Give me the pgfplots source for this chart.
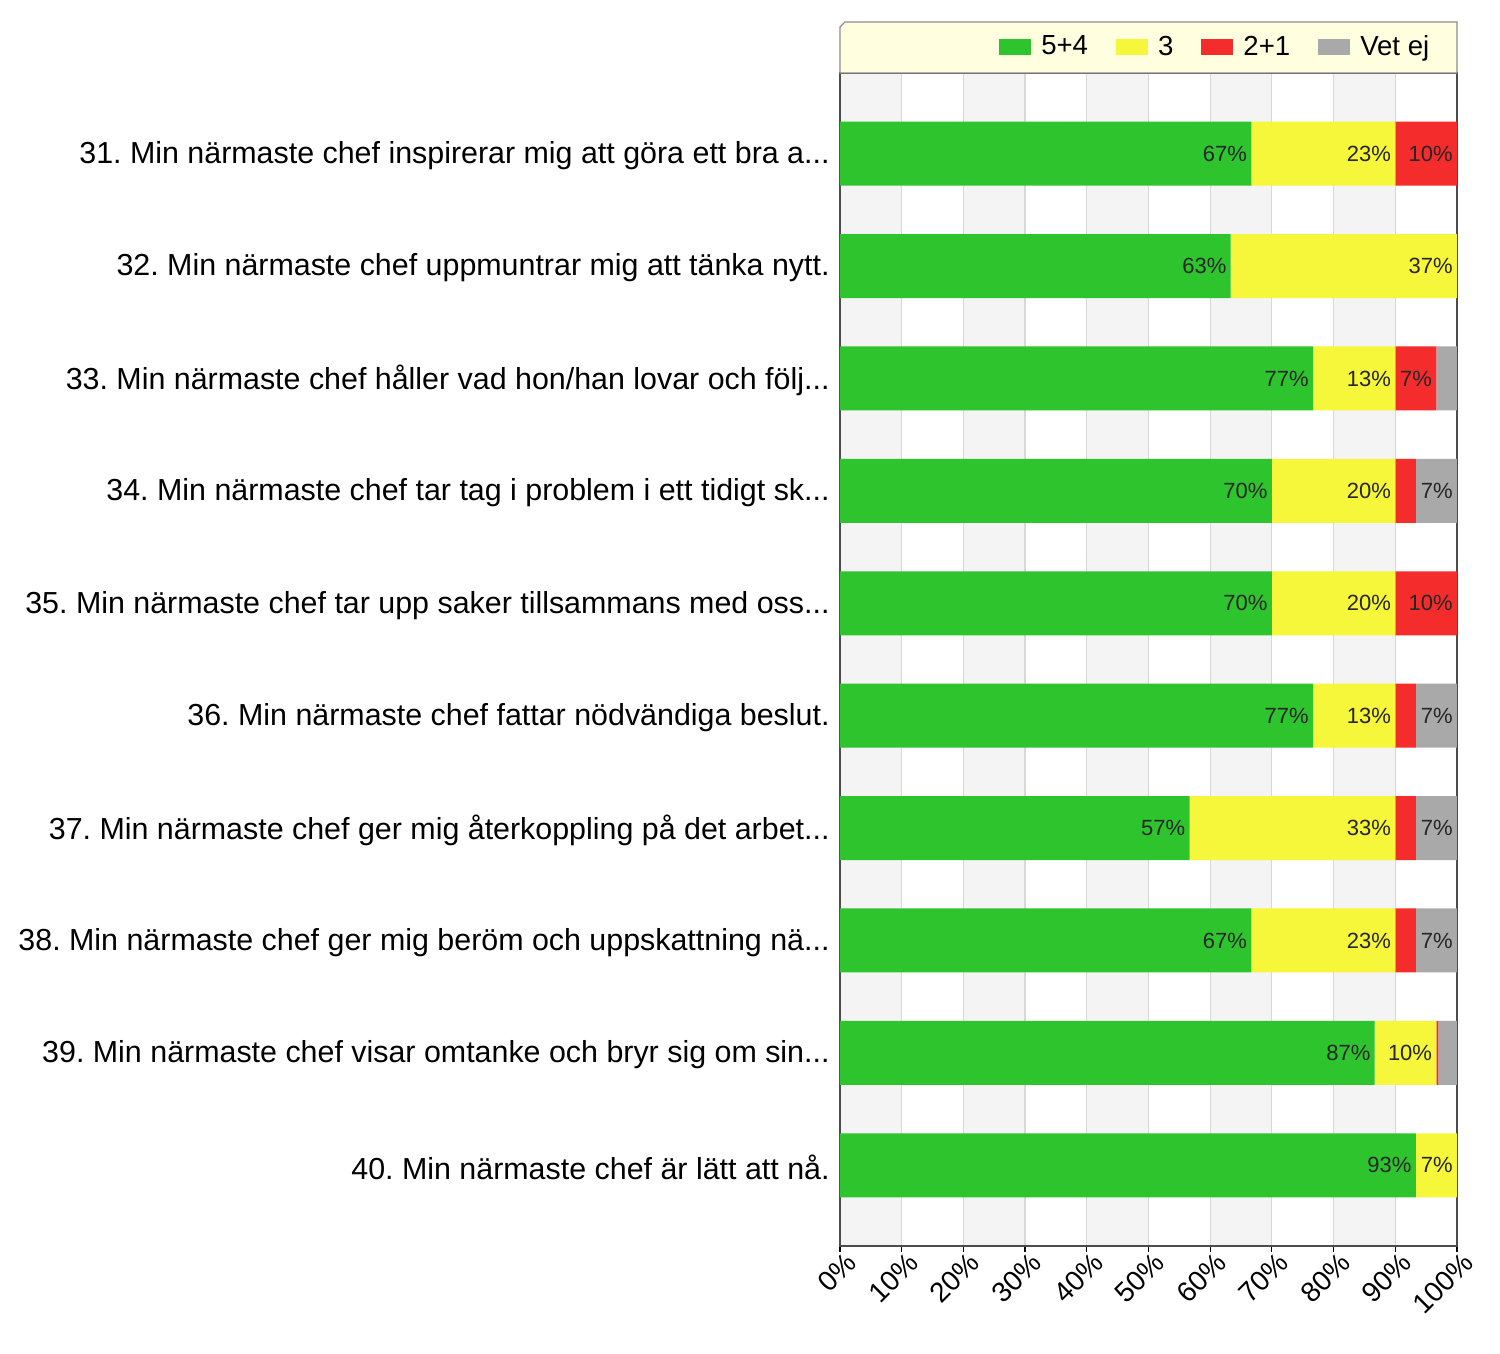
\documentclass[border=0pt]{standalone}
\usepackage{pgfplots}
\pgfplotsset{compat=1.18}
\usepackage{pgfplotstable}
\usepackage{fontspec}
\setmainfont{Liberation Sans}
\frenchspacing
\definecolor{cG}{HTML}{2EC42E}
\definecolor{cY}{HTML}{F6F63A}
\definecolor{cR}{HTML}{F42C2C}
\definecolor{cV}{HTML}{A9A9A9}
\definecolor{stripe}{HTML}{F4F4F4}
\definecolor{gridc}{HTML}{D8D8D8}
\definecolor{legbg}{HTML}{FFFFE0}
\newcommand*{\tdots}{.\kern0pt.\kern0pt.}

\pgfplotstableread{
cat g y r v gl yl rl vl
9 66.67 23.33 10 0 67\% 23\% 10\% {}
8 63.33 36.67 0 0 63\% 37\% {} {}
7 76.67 13.33 6.67 3.33 77\% 13\% 7\% {}
6 70 20 3.33 6.67 70\% 20\% {} 7\%
5 70 20 10 0 70\% 20\% 10\% {}
4 76.67 13.33 3.33 6.67 77\% 13\% {} 7\%
3 56.67 33.33 3.33 6.67 57\% 33\% {} 7\%
2 66.67 23.33 3.33 6.67 67\% 23\% {} 7\%
1 86.67 10 0.3 3.03 87\% 10\% {} {}
0 93.33 6.67 0 0 93\% 7\% {} {}
}\data

\begin{document}
\begin{tikzpicture}
\path[use as bounding box] (-420pt,-54pt) rectangle (330pt,623pt);
\begin{axis}[
  at={(0,0)}, anchor=south west,
  scale only axis, width=308.5pt, height=586.5pt,
  clip=false,
  axis background/.style={fill=white, path picture={
    \foreach \i in {0,2,4,6,8} {\fill[stripe] ([xshift=\i*30.85pt]path picture bounding box.south west) rectangle ([xshift=\i*30.85pt+30.85pt]path picture bounding box.north west);}}},
  xbar stacked, bar width=32pt,
  xmin=0, xmax=100, ymin=-0.718, ymax=9.718,
  xtick={0,10,20,30,40,50,60,70,80,90,100},
  xticklabels={0\%,10\%,20\%,30\%,40\%,50\%,60\%,70\%,80\%,90\%,100\%},
  x tick label style={rotate=45, anchor=north east, font=\fontsize{14}{16}\selectfont, inner sep=1pt, xshift=3pt},
  ytick={0,1,2,3,4,5,6,7,8,9},
  yticklabels={
    {40. Min närmaste chef är lätt att nå.},
    {39. Min närmaste chef visar omtanke och bryr sig om sin\tdots},
    {38. Min närmaste chef ger mig beröm och uppskattning nä\tdots},
    {37. Min närmaste chef ger mig återkoppling på det arbet\tdots},
    {36. Min närmaste chef fattar nödvändiga beslut.},
    {35. Min närmaste chef tar upp saker tillsammans med oss\tdots},
    {34. Min närmaste chef tar tag i problem i ett tidigt sk\tdots},
    {33. Min närmaste chef håller vad hon/han lovar och följ\tdots},
    {32. Min närmaste chef uppmuntrar mig att tänka nytt.},
    {31. Min närmaste chef inspirerar mig att göra ett bra a\tdots}},
  y tick label style={font=\fontsize{15.2}{18}\selectfont, inner sep=2pt, yshift=-1pt},
  ytick style={draw=none},
  tick align=outside, xtick pos=left, major tick length=3pt,
  xtick style={black, line width=0.6pt},
  xmajorgrids, grid style={draw=gridc, line width=0.6pt},
  axis line style={black!70, line width=0.6pt},
  nodes near coords, point meta=explicit symbolic,
  visualization depends on={rawx \as \rawx},
  every node near coord/.append style={anchor=east, xshift=\rawx*1.5425pt, font=\fontsize{11}{13}\selectfont, text=black!85, inner sep=2pt},
  legend columns=4,
  legend style={at={(0.972,1.0222)}, anchor=east, draw=none, fill=none,
    font=\fontsize{13.8}{16}\selectfont,
    /tikz/every odd column/.append style={column sep=3pt},
    /tikz/every even column/.append style={column sep=12pt}},
  legend image code/.code={\fill[#1] (0pt,-4pt) rectangle (16pt,4pt);},
]
\draw[draw=black!45, fill=legbg, line width=0.6pt] (rel axis cs:0,1) -- (rel axis cs:0,1.0392) -- (rel axis cs:0.008,1.0435) -- (rel axis cs:1,1.0435) -- (rel axis cs:1,1) -- cycle;
\addplot[draw=none, fill=cG] table[x=g, y=cat, meta=gl] {\data};
\addplot[draw=none, fill=cY] table[x=y, y=cat, meta=yl] {\data};
\addplot[draw=none, fill=cR] table[x=r, y=cat, meta=rl] {\data};
\addplot[draw=none, fill=cV] table[x=v, y=cat, meta=vl] {\data};
\legend{5+4, 3, 2+1, Vet ej}
\end{axis}
\end{tikzpicture}
\end{document}
